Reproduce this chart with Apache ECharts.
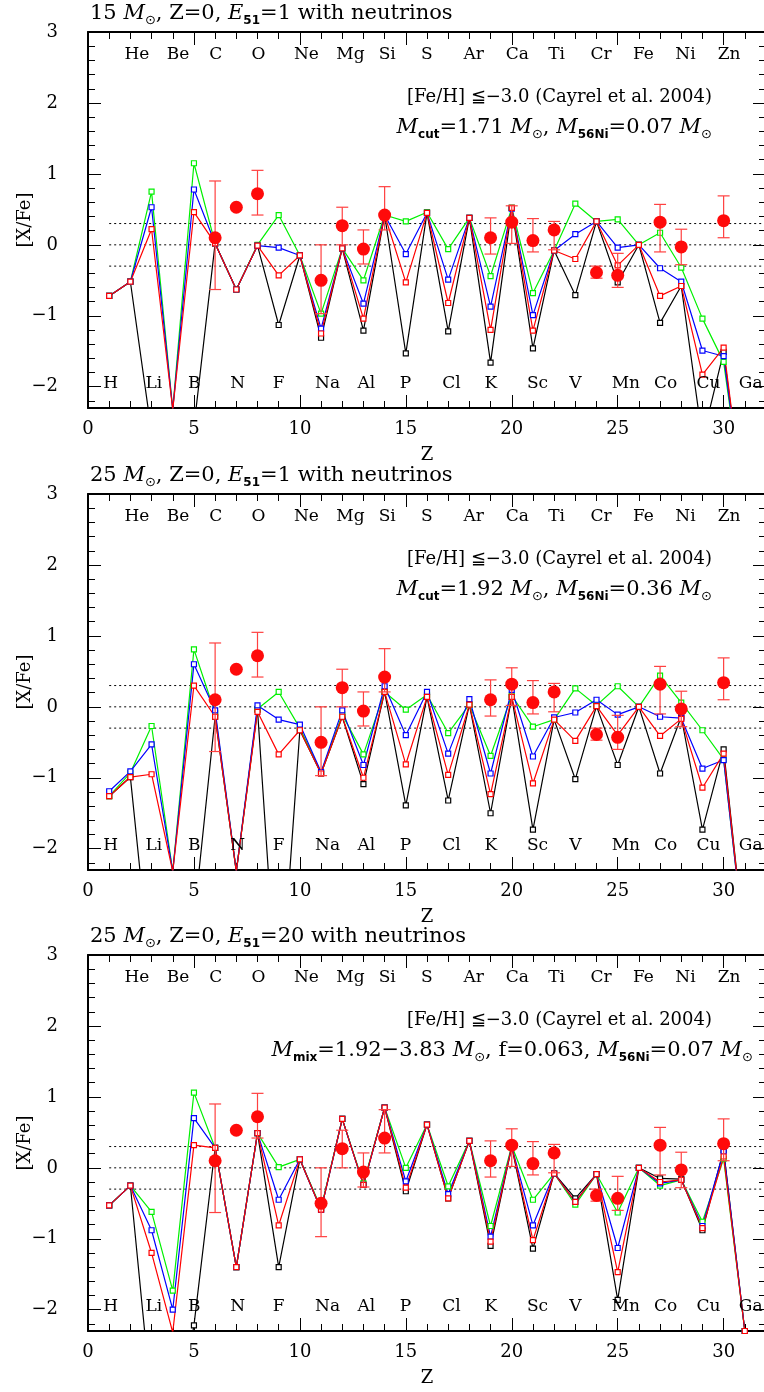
<!DOCTYPE html>
<html>
<head>
<meta charset="utf-8">
<script src="https://cdn.jsdelivr.net/npm/echarts@6/dist/echarts.min.js"></script>
<style>
  html, body { margin: 0; padding: 0; background: #fff; }
  #chart { width: 764px; height: 1392px; }
</style>
</head>
<body>
<div id="chart"></div>
<script>
// atomic number axis, element symbols
const zNum = [1, 2, 3, 4, 5, 6, 7, 8, 9, 10, 11, 12, 13, 14, 15, 16, 17, 18, 19, 20, 21, 22, 23, 24, 25, 26, 27, 28, 29, 30, 31]
const elements = ['H', 'He', 'Li', 'Be', 'B', 'C', 'N', 'O', 'F', 'Ne', 'Na', 'Mg', 'Al', 'Si', 'P', 'S', 'Cl', 'Ar', 'K', 'Ca', 'Sc', 'Ti', 'V', 'Cr', 'Mn', 'Fe', 'Co', 'Ni', 'Cu', 'Zn', 'Ga']

// panel 1: 15 Msun, E51=1
const p1Black = [-0.72, -0.52, -2.65, -3.2, -2.57, 0.02, -0.63, -0.01, -1.13, -0.15, -1.31, -0.05, -1.21, 0.42, -1.53, 0.45, -1.22, 0.38, -1.66, 0.52, -1.46, -0.08, -0.71, 0.33, -0.53, 0.0, -1.1, -0.58, -2.74, -1.51, -3.8]
const p1Blue = [-0.72, -0.52, 0.53, -2.32, 0.78, 0.02, -0.63, -0.01, -0.04, -0.15, -1.18, -0.05, -0.83, 0.42, -0.13, 0.45, -0.49, 0.38, -0.87, 0.51, -0.99, -0.08, 0.15, 0.33, -0.04, 0.0, -0.33, -0.52, -1.49, -1.57, -3.8]
const p1Red = [-0.72, -0.52, 0.22, -2.32, 0.46, 0.02, -0.63, -0.01, -0.43, -0.15, -1.25, -0.05, -1.04, 0.42, -0.53, 0.45, -0.82, 0.38, -1.2, 0.52, -1.21, -0.08, -0.2, 0.33, -0.29, 0.0, -0.72, -0.58, -1.83, -1.45, -3.8]
const p1Green = [-0.72, -0.52, 0.75, -2.32, 1.15, 0.02, -0.63, 0.0, 0.42, -0.15, -0.97, -0.05, -0.5, 0.42, 0.33, 0.46, -0.06, 0.38, -0.44, 0.52, -0.68, -0.08, 0.58, 0.33, 0.36, 0.0, 0.17, -0.32, -1.04, -1.65, -3.8]

// panel 2: 25 Msun, E51=1
const p2Black = [-1.26, -0.99, -3.9, -4.5, -3.0, -0.14, -2.32, -0.04, -4.5, -0.33, -0.94, -0.14, -1.09, 0.21, -1.39, 0.14, -1.32, 0.03, -1.5, 0.14, -1.73, -0.18, -1.02, 0.01, -0.82, 0.0, -0.94, -0.14, -1.73, -0.6, -3.4]
const p2Blue = [-1.19, -0.91, -0.53, -2.32, 0.6, -0.05, -2.32, 0.02, -0.18, -0.25, -0.92, -0.05, -0.82, 0.29, -0.4, 0.21, -0.66, 0.11, -0.94, 0.24, -0.7, -0.15, -0.08, 0.1, -0.11, 0.0, -0.14, -0.16, -0.87, -0.75, -3.4]
const p2Red = [-1.26, -0.99, -0.95, -2.32, 0.3, -0.14, -2.32, -0.07, -0.67, -0.33, -0.94, -0.14, -1.0, 0.21, -0.81, 0.14, -0.96, 0.03, -1.23, 0.14, -1.08, -0.18, -0.48, 0.01, -0.4, 0.0, -0.41, -0.17, -1.14, -0.66, -3.4]
const p2Green = [-1.26, -0.93, -0.27, -2.32, 0.81, -0.09, -2.32, -0.03, 0.21, -0.3, -0.93, -0.11, -0.67, 0.21, -0.04, 0.17, -0.37, 0.03, -0.69, 0.16, -0.28, -0.18, 0.26, 0.02, 0.29, 0.0, 0.44, 0.06, -0.33, -0.74, -3.4]

// panel 3: 25 Msun, E51=20, mixing-fallback
const p3Black = [-0.53, -0.25, -3.3, -4.0, -2.22, 0.28, -1.4, 0.49, -1.4, 0.12, -0.59, 0.69, -0.24, 0.85, -0.33, 0.61, -0.43, 0.38, -1.1, 0.3, -1.14, -0.08, -0.43, -0.09, -1.86, 0.0, -0.15, -0.16, -0.88, 0.25, -2.3]
const p3Blue = [-0.53, -0.25, -0.88, -2.0, 0.7, 0.28, -1.4, 0.49, -0.45, 0.12, -0.59, 0.69, -0.24, 0.85, -0.19, 0.61, -0.37, 0.38, -0.97, 0.3, -0.81, -0.08, -0.48, -0.09, -1.13, 0.0, -0.22, -0.17, -0.82, 0.23, -2.3]
const p3Red = [-0.53, -0.25, -1.2, -2.32, 0.32, 0.28, -1.4, 0.49, -0.81, 0.12, -0.59, 0.69, -0.24, 0.85, -0.28, 0.61, -0.43, 0.38, -1.04, 0.3, -1.02, -0.08, -0.48, -0.09, -1.47, 0.0, -0.2, -0.17, -0.85, 0.16, -2.3]
const p3Green = [-0.53, -0.25, -0.62, -1.73, 1.06, 0.28, -1.4, 0.49, 0.01, 0.12, -0.57, 0.69, -0.22, 0.85, 0.0, 0.61, -0.26, 0.38, -0.82, 0.31, -0.45, -0.08, -0.52, -0.09, -0.63, 0.0, -0.25, -0.17, -0.76, 0.13, -2.3]

// Cayrel et al. 2004, [Fe/H] <= -3.0 (same in every panel)
const obsZ = [6, 7, 8, 11, 12, 13, 14, 19, 20, 21, 22, 24, 25, 27, 28, 30]
const obsVal = [0.1, 0.53, 0.72, -0.5, 0.27, -0.06, 0.42, 0.1, 0.32, 0.06, 0.21, -0.39, -0.43, 0.32, -0.03, 0.34]
const obsLo = [-0.63, null, 0.42, -0.97, 0.0, -0.27, 0.21, -0.13, 0.02, -0.1, -0.07, -0.47, -0.6, -0.1, -0.28, 0.1]
const obsHi = [0.9, null, 1.05, 0.0, 0.53, 0.21, 0.82, 0.38, 0.55, 0.37, 0.33, -0.3, -0.12, 0.57, 0.22, 0.69]

// dotted reference levels
const refLevels = [0.3, 0, -0.3]

// ticks
const xMajor = [0, 5, 10, 15, 20, 25, 30]
const xMinor = [1, 2, 3, 4, 6, 7, 8, 9, 11, 12, 13, 14, 16, 17, 18, 19, 21, 22, 23, 24, 26, 27, 28, 29, 31]
const yMajor = [-2, -1, 0, 1, 2, 3]
const yMinor = []
for (let v = -22; v <= 28; v += 2) if (v % 10 !== 0) yMinor.push(v / 10)

const panelTitles = [
  '15 {i|M}{sun|⊙}, Z=0, {i|E}{s|51}=1 with neutrinos',
  '25 {i|M}{sun|⊙}, Z=0, {i|E}{s|51}=1 with neutrinos',
  '25 {i|M}{sun|⊙}, Z=0, {i|E}{s|51}=20 with neutrinos'
]
const obsNote = '[Fe/H] ≦−3.0 (Cayrel et al. 2004)'
const modelNotes = [
  '{i|M}{s|cut}=1.71 {i|M}{sun|⊙}, {i|M}{s|56Ni}=0.07 {i|M}{sun|⊙}',
  '{i|M}{s|cut}=1.92 {i|M}{sun|⊙}, {i|M}{s|56Ni}=0.36 {i|M}{sun|⊙}',
  '{i|M}{s|mix}=1.92−3.83 {i|M}{sun|⊙}, f=0.063, {i|M}{s|56Ni}=0.07 {i|M}{sun|⊙}'
]

const panels = [
  { black: p1Black, blue: p1Blue, red: p1Red, green: p1Green },
  { black: p2Black, blue: p2Blue, red: p2Red, green: p2Green },
  { black: p3Black, blue: p3Blue, red: p3Red, green: p3Green }
]

const serif = 'DejaVu Serif'
const gridTops = [32, 494, 955]
const gridH = 376
const noteRight = [52, 52, 11]

const rich = {
  i: { fontFamily: serif, fontStyle: 'italic', fontSize: 21, color: '#000' },
  s: { fontFamily: 'DejaVu Sans', fontWeight: 'bold', fontSize: 12, color: '#000', padding: [13, 0, 0, 0] },
  sun: { fontFamily: 'DejaVu Sans', fontSize: 13, color: '#000', padding: [13, 0, 0, 0] }
}

const grid = []
const xAxis = []
const yAxis = []
const series = []
const title = []

function tickAxis (extra, ticks, len, showLine) {
  return Object.assign({
    type: 'value',
    splitLine: { show: false },
    nameMoveOverlap: false,
    axisLine: { show: showLine, onZero: false, lineStyle: { color: '#000', width: 2 } },
    axisTick: { show: true, inside: true, length: len, customValues: ticks, lineStyle: { color: '#000', width: 1 } },
    axisLabel: { show: false }
  }, extra)
}

function errBar (params, api) {
  const x = api.value(0)
  const top = api.coord([x, api.value(2)])
  const bot = api.coord([x, api.value(1)])
  const w = 6
  const st = { stroke: '#ff4040', lineWidth: 1.2 }
  return {
    type: 'group',
    children: [
      { type: 'line', shape: { x1: top[0], y1: top[1], x2: bot[0], y2: bot[1] }, style: st },
      { type: 'line', shape: { x1: top[0] - w, y1: top[1], x2: top[0] + w, y2: top[1] }, style: st },
      { type: 'line', shape: { x1: bot[0] - w, y1: bot[1], x2: bot[0] + w, y2: bot[1] }, style: st }
    ]
  }
}

panels.forEach((p, g) => {
  grid.push({ left: 88, right: -2, top: gridTops[g], height: gridH, show: false, containLabel: false, outerBoundsMode: 'none' })

  const xb = { gridIndex: g, min: 0, max: 32 }
  const xi = xAxis.length
  xAxis.push(tickAxis(Object.assign({}, xb, {
    position: 'bottom',
    axisLabel: { show: true, customValues: xMajor, color: '#000', fontFamily: serif, fontSize: 18, margin: 12 },
    name: 'Z',
    nameLocation: 'middle',
    nameGap: 38,
    nameTextStyle: { color: '#000', fontFamily: serif, fontSize: 18 }
  }), xMajor, 13, true))
  xAxis.push(tickAxis(Object.assign({}, xb, { position: 'bottom' }), xMinor, 7, false))
  xAxis.push(tickAxis(Object.assign({}, xb, { position: 'top' }), xMajor, 13, true))
  xAxis.push(tickAxis(Object.assign({}, xb, { position: 'top' }), xMinor, 7, false))

  const yb = { gridIndex: g, min: -2.3, max: 3 }
  const yi = yAxis.length
  yAxis.push(tickAxis(Object.assign({}, yb, {
    position: 'left',
    axisLabel: {
      show: true,
      customValues: yMajor,
      color: '#000',
      fontFamily: serif,
      fontSize: 18,
      margin: 30,
      formatter: v => (v < 0 ? '\u2212' + (-v) : String(v))
    },
    name: '[X/Fe]',
    nameLocation: 'middle',
    nameGap: 54,
    nameRotate: 90,
    nameTextStyle: { color: '#000', fontFamily: serif, fontSize: 18 }
  }), yMajor, 13, true))
  yAxis.push(tickAxis(Object.assign({}, yb, { position: 'left' }), yMinor, 7, false))
  yAxis.push(tickAxis(Object.assign({}, yb, { position: 'right' }), yMajor, 13, true))
  yAxis.push(tickAxis(Object.assign({}, yb, { position: 'right' }), yMinor, 7, false))

  const ax = { xAxisIndex: xi, yAxisIndex: yi }

  refLevels.forEach(lv => {
    series.push(Object.assign({
      type: 'line',
      data: [[1, lv], [32, lv]],
      symbol: 'none',
      silent: true,
      lineStyle: { color: '#000', width: 1, type: [2, 3] },
      z: 1
    }, ax))
  })

  const models = [['black', '#000000'], ['green', '#00f000'], ['blue', '#0000ff'], ['red', '#ff0000']]
  models.forEach(([k, c]) => {
    series.push(Object.assign({
      type: 'line',
      data: zNum.map((z, i) => [z, p[k][i]]),
      symbol: 'rect',
      symbolSize: 5,
      showAllSymbol: true,
      clip: true,
      lineStyle: { color: c, width: 1.2 },
      itemStyle: { color: '#fff', borderColor: c, borderWidth: 1.2 },
      z: 2
    }, ax))
  })

  series.push(Object.assign({
    type: 'custom',
    renderItem: errBar,
    data: obsZ.map((z, i) => [z, obsLo[i], obsHi[i]]).filter(d => d[1] !== null),
    z: 3
  }, ax))
  series.push(Object.assign({
    type: 'scatter',
    data: obsZ.map((z, i) => [z, obsVal[i]]),
    symbol: 'circle',
    symbolSize: 13,
    itemStyle: { color: '#ff0a0a', opacity: 1 },
    z: 4
  }, ax))

  // element names: even Z on top row, odd Z on bottom row
  series.push(Object.assign({
    type: 'scatter',
    silent: true,
    symbolSize: 0,
    itemStyle: { opacity: 1 },
    data: elements.map((s, i) => ({ value: [zNum[i], zNum[i] % 2 === 0 ? 2.68 : -1.95], name: s })),
    label: {
      show: true,
      position: 'inside',
      align: 'left',
      offset: [-6, 0],
      formatter: '{b}',
      color: '#000',
      opacity: 1,
      fontFamily: serif,
      fontSize: 17
    },
    z: 5
  }, ax))

  title.push({
    text: panelTitles[g],
    left: 90,
    top: gridTops[g] - 31,
    padding: 0,
    textStyle: { fontFamily: serif, fontSize: 21, color: '#000', fontWeight: 'normal', rich }
  })
  title.push({
    text: obsNote,
    right: 52,
    top: gridTops[g] + 56,
    padding: 0,
    textStyle: { fontFamily: serif, fontSize: 18, color: '#000', fontWeight: 'normal' }
  })
  title.push({
    text: modelNotes[g],
    right: noteRight[g],
    top: gridTops[g] + 83,
    padding: 0,
    textStyle: { fontFamily: serif, fontSize: 21, color: '#000', fontWeight: 'normal', rich }
  })
})

const chart = echarts.init(document.getElementById('chart'))
chart.setOption({
  animation: false,
  backgroundColor: '#fff',
  title,
  grid,
  xAxis,
  yAxis,
  series
})
</script>
</body>
</html>
